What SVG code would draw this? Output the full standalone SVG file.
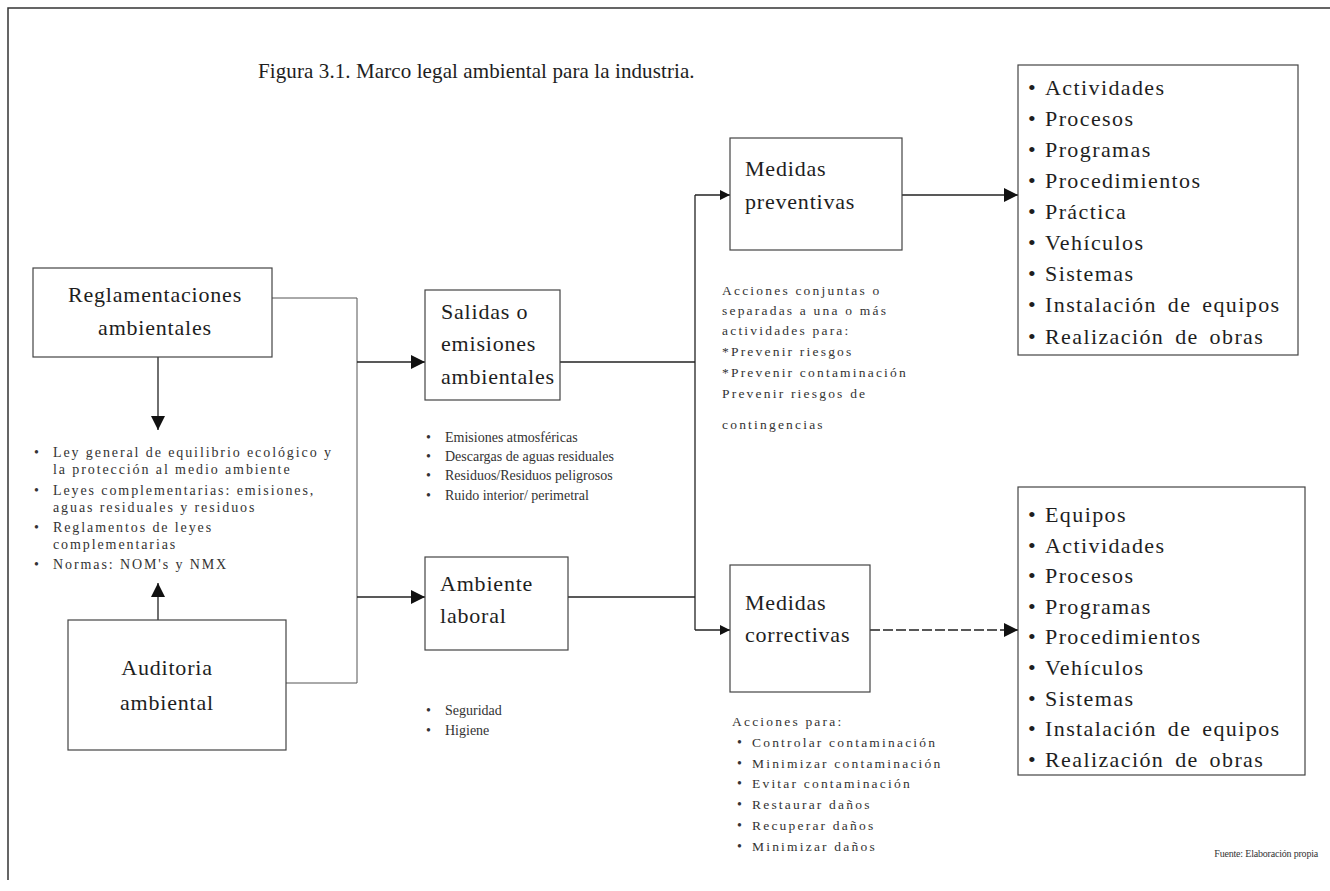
<svg xmlns="http://www.w3.org/2000/svg" width="1330" height="891" viewBox="0 0 1330 891">
  <style>
    text { font-family: "Liberation Serif", "Times New Roman", serif; fill: #1e1e1e; }
    .box { fill: #ffffff; stroke: #444; stroke-width: 1.2; }
    .frame { fill: none; stroke: #333; stroke-width: 1.5; }
    .big { font-size: 22px; letter-spacing: 0.8px; }
    .item { font-size: 22px; letter-spacing: 1.4px; word-spacing: 4px; }
    .dot { font-size: 22px; }
    .small { font-size: 14px; fill: #333; }
    .wide { font-size: 14px; fill: #333; letter-spacing: 1.9px; }
    .note { font-size: 13.5px; fill: #333; letter-spacing: 2.2px; }
    .source { font-size: 10px; fill: #333; letter-spacing: -0.2px; }
    .conn { fill: none; stroke: #222; stroke-width: 1.3; }
    .thin { fill: none; stroke: #555; stroke-width: 1; }
  </style>
  <defs>
    <marker id="arrow" viewBox="0 0 10 10" refX="10" refY="5" markerWidth="10" markerHeight="10" markerUnits="userSpaceOnUse" orient="auto">
      <path d="M0,0 L10,5 L0,10 z" fill="#111"/>
    </marker>
    <marker id="arrowBig" viewBox="0 0 12 12" refX="12" refY="6" markerWidth="14" markerHeight="14" markerUnits="userSpaceOnUse" orient="auto">
      <path d="M0,0 L12,6 L0,12 z" fill="#111"/>
    </marker>
  </defs>

  <rect width="1330" height="891" fill="#ffffff"/>

  <!-- page frame -->
  <path class="frame" d="M8,880 L8,8 L1330,8"/>

  <text x="258" y="78" style="font-size:21px; letter-spacing:0.1px">Figura 3.1. Marco legal ambiental para la industria.</text>

  <!-- connectors -->
  <g id="connectors">
    <path class="conn" d="M158,357 L158,430" marker-end="url(#arrowBig)"/>
    <path class="conn" d="M158,620 L158,583" marker-end="url(#arrowBig)"/>
    <path class="thin" d="M272,298 L357,298 L357,683 L286,683"/>
    <path class="conn" d="M357,362 L425,362" marker-end="url(#arrowBig)"/>
    <path class="conn" d="M357,597 L425,597" marker-end="url(#arrowBig)"/>
    <path class="conn" d="M560,362 L695,362"/>
    <path class="conn" d="M568,597 L695,597"/>
    <path class="conn" d="M695,630 L695,195"/>
    <path class="conn" d="M695,195 L730,195" marker-end="url(#arrow)"/>
    <path class="conn" d="M695,630 L730,630" marker-end="url(#arrow)"/>
    <path class="conn" d="M902,195 L1018,195" marker-end="url(#arrowBig)"/>
    <path class="conn" d="M870,630 L1018,630" stroke-dasharray="10 3" marker-end="url(#arrowBig)"/>
  </g>

  <g id="reglamentaciones">
    <rect class="box" x="33" y="268" width="239" height="89"/>
    <text class="big" x="155" y="302" text-anchor="middle">Reglamentaciones</text>
    <text class="big" x="155" y="335" text-anchor="middle">ambientales</text>
  </g>

  <g id="lista-leyes">
    <text class="small" x="34" y="457">•</text>
    <text class="wide" x="53" y="457">Ley general de equilibrio ecológico y</text>
    <text class="wide" x="53" y="474">la protección al medio ambiente</text>
    <text class="small" x="34" y="495">•</text>
    <text class="wide" x="53" y="495">Leyes complementarias: emisiones,</text>
    <text class="wide" x="53" y="512">aguas residuales y residuos</text>
    <text class="small" x="34" y="532">•</text>
    <text class="wide" x="53" y="532">Reglamentos de leyes</text>
    <text class="wide" x="53" y="549">complementarias</text>
    <text class="small" x="34" y="569">•</text>
    <text class="wide" x="53" y="569">Normas: NOM's y NMX</text>
  </g>

  <g id="auditoria">
    <rect class="box" x="68" y="620" width="218" height="130"/>
    <text class="big" x="167" y="675" text-anchor="middle">Auditoria</text>
    <text class="big" x="167" y="710" text-anchor="middle">ambiental</text>
  </g>

  <g id="salidas">
    <rect class="box" x="425" y="290" width="135" height="110"/>
    <text class="big" x="441" y="319">Salidas o</text>
    <text class="big" x="441" y="351">emisiones</text>
    <text class="big" x="441" y="384">ambientales</text>
  </g>

  <g id="lista-emisiones">
    <text class="small" x="426" y="442">•</text>
    <text class="small" x="445" y="442">Emisiones atmosféricas</text>
    <text class="small" x="426" y="461">•</text>
    <text class="small" x="445" y="461">Descargas de aguas residuales</text>
    <text class="small" x="426" y="480">•</text>
    <text class="small" x="445" y="480">Residuos/Residuos peligrosos</text>
    <text class="small" x="426" y="500">•</text>
    <text class="small" x="445" y="500">Ruido interior/ perimetral</text>
  </g>

  <g id="ambiente-laboral">
    <rect class="box" x="425" y="557" width="143" height="93"/>
    <text class="big" x="440" y="591">Ambiente</text>
    <text class="big" x="440" y="623">laboral</text>
  </g>

  <g id="lista-laboral">
    <text class="small" x="426" y="715">•</text>
    <text class="small" x="445" y="715">Seguridad</text>
    <text class="small" x="426" y="735">•</text>
    <text class="small" x="445" y="735">Higiene</text>
  </g>

  <g id="preventivas">
    <rect class="box" x="730" y="138" width="172" height="112"/>
    <text class="big" x="745" y="176">Medidas</text>
    <text class="big" x="745" y="209">preventivas</text>
  </g>

  <g id="texto-preventivas">
    <text class="note" x="722" y="295">Acciones conjuntas o</text>
    <text class="note" x="722" y="315">separadas a una o más</text>
    <text class="note" x="722" y="335">actividades para:</text>
    <text class="note" x="722" y="356">*Prevenir riesgos</text>
    <text class="note" x="722" y="377">*Prevenir contaminación</text>
    <text class="note" x="722" y="398">Prevenir riesgos de</text>
    <text class="note" x="722" y="429">contingencias</text>
  </g>

  <g id="correctivas">
    <rect class="box" x="730" y="565" width="140" height="127"/>
    <text class="big" x="745" y="610">Medidas</text>
    <text class="big" x="745" y="642">correctivas</text>
  </g>

  <g id="texto-correctivas">
    <text class="note" x="732" y="726">Acciones para:</text>
    <text class="small" x="737" y="747">•</text>
    <text class="note" x="752" y="747">Controlar contaminación</text>
    <text class="small" x="737" y="768">•</text>
    <text class="note" x="752" y="768">Minimizar contaminación</text>
    <text class="small" x="737" y="788">•</text>
    <text class="note" x="752" y="788">Evitar contaminación</text>
    <text class="small" x="737" y="809">•</text>
    <text class="note" x="752" y="809">Restaurar daños</text>
    <text class="small" x="737" y="830">•</text>
    <text class="note" x="752" y="830">Recuperar daños</text>
    <text class="small" x="737" y="851">•</text>
    <text class="note" x="752" y="851">Minimizar daños</text>
  </g>

  <g id="lista-preventivas">
    <rect class="box" x="1018" y="65" width="280" height="290"/>
    <text class="dot" x="1028" y="95">•</text><text class="item" x="1045" y="95">Actividades</text>
    <text class="dot" x="1028" y="126">•</text><text class="item" x="1045" y="126">Procesos</text>
    <text class="dot" x="1028" y="157">•</text><text class="item" x="1045" y="157">Programas</text>
    <text class="dot" x="1028" y="188">•</text><text class="item" x="1045" y="188">Procedimientos</text>
    <text class="dot" x="1028" y="219">•</text><text class="item" x="1045" y="219">Práctica</text>
    <text class="dot" x="1028" y="250">•</text><text class="item" x="1045" y="250">Vehículos</text>
    <text class="dot" x="1028" y="281">•</text><text class="item" x="1045" y="281">Sistemas</text>
    <text class="dot" x="1028" y="312">•</text><text class="item" x="1045" y="312">Instalación de equipos</text>
    <text class="dot" x="1028" y="344">•</text><text class="item" x="1045" y="344">Realización de obras</text>
  </g>

  <g id="lista-correctivas">
    <rect class="box" x="1018" y="487" width="287" height="288"/>
    <text class="dot" x="1028" y="522">•</text><text class="item" x="1045" y="522">Equipos</text>
    <text class="dot" x="1028" y="553">•</text><text class="item" x="1045" y="553">Actividades</text>
    <text class="dot" x="1028" y="583">•</text><text class="item" x="1045" y="583">Procesos</text>
    <text class="dot" x="1028" y="614">•</text><text class="item" x="1045" y="614">Programas</text>
    <text class="dot" x="1028" y="644">•</text><text class="item" x="1045" y="644">Procedimientos</text>
    <text class="dot" x="1028" y="675">•</text><text class="item" x="1045" y="675">Vehículos</text>
    <text class="dot" x="1028" y="706">•</text><text class="item" x="1045" y="706">Sistemas</text>
    <text class="dot" x="1028" y="736">•</text><text class="item" x="1045" y="736">Instalación de equipos</text>
    <text class="dot" x="1028" y="767">•</text><text class="item" x="1045" y="767">Realización de obras</text>
  </g>

  <text class="source" x="1318" y="857" text-anchor="end">Fuente: Elaboración propia</text>
</svg>
